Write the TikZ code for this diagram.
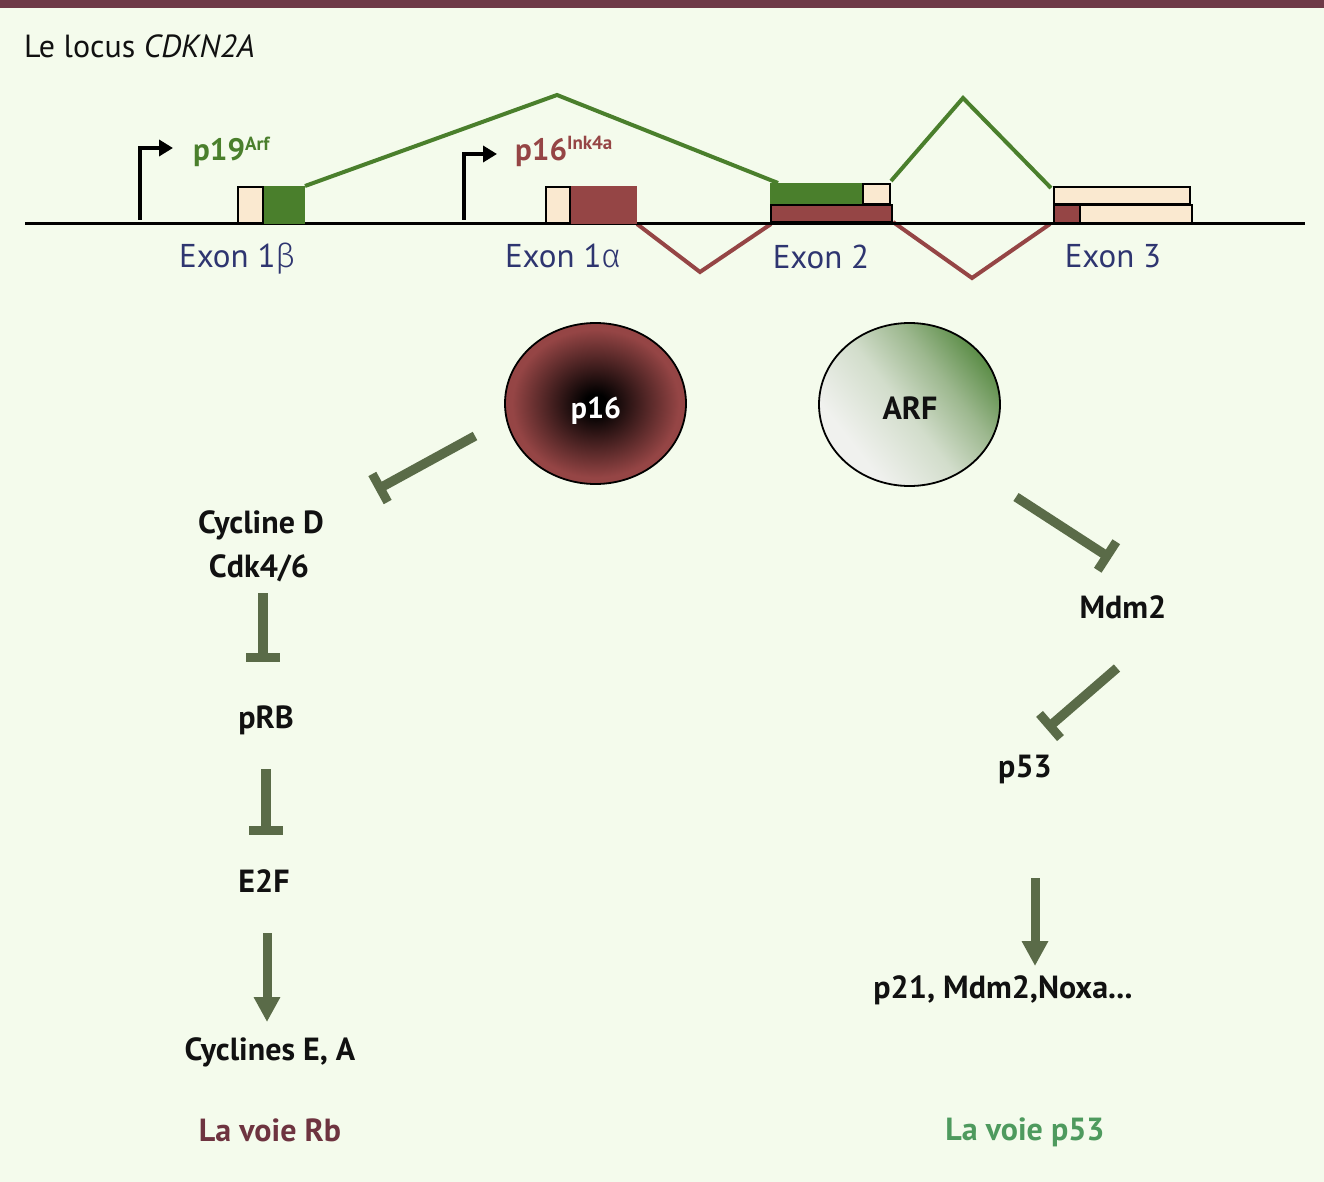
\documentclass[tikz,border=0pt]{standalone}
\usepackage{fontspec}
\setmainfont{PT Sans}
\newfontfamily\grk{Fira Sans Light}
\usetikzlibrary{arrows.meta,calc,shapes.geometric}
\definecolor{bg}{HTML}{F4FBEC}
\definecolor{topbar}{HTML}{6E3A47}
\definecolor{arfgreen}{HTML}{4A7F2C}
\definecolor{p16red}{HTML}{954545}
\definecolor{beige}{HTML}{FAE9D0}
\definecolor{exonblue}{HTML}{2E3570}
\definecolor{olive}{HTML}{5A6B48}
\definecolor{rbcol}{HTML}{6E3440}
\definecolor{p53col}{HTML}{4E9A5E}
\definecolor{txt}{HTML}{111111}
\definecolor{arflight}{HTML}{F0F1EE}
\definecolor{arfmid}{HTML}{D2DDCB}
\definecolor{arfmid2}{HTML}{9DB88F}
\definecolor{arfdark}{HTML}{578A42}
\pgfdeclareradialshading{pinkshade}{\pgfpoint{0bp}{0bp}}{color(0bp)=(black); color(3bp)=(black); color(23bp)=(p16red); color(50bp)=(p16red)}
\pgfdeclarehorizontalshading{arfshade}{100bp}{color(0bp)=(arflight); color(30bp)=(arflight); color(48bp)=(arfmid); color(62bp)=(arfmid2); color(76bp)=(arfdark); color(100bp)=(arfdark)}
\tikzset{
  lbl/.style={font=\fontsize{32}{32}\selectfont\bfseries, text=txt, inner sep=0pt},
  exonlbl/.style={font=\fontsize{33}{33}\selectfont, text=exonblue, inner sep=0pt, anchor=base},
  inhib/.style={draw=olive, line width=9.5pt},
  inhibbar/.style={draw=olive, line width=9pt},
  activ/.style={draw=olive, line width=9pt, -{Triangle[length=25pt,width=25pt]}},
  splg/.style={draw=arfgreen, line width=4pt},
  splr/.style={draw=p16red, line width=4pt},
  prom/.style={draw=black, line width=3.5pt, -{Triangle[length=14pt,width=16pt]}},
  exbox/.style={draw=black, line width=2pt, fill=beige},
}
\begin{document}
\begin{tikzpicture}[x=1pt,y=-1pt]
\useasboundingbox (0,0) rectangle (1324,1182);
\fill[bg] (0,0) rectangle (1324,1182);
\fill[topbar] (0,0) rectangle (1324,8);

% title
\node[anchor=base west, inner sep=0pt, font=\fontsize{32}{32}\selectfont, text=txt] (title) at (24,58) {Le locus \textit{CDKN2A}};

% splice lines (behind exons)
\coordinate (g1) at (305,186); \coordinate (g2) at (557,95); \coordinate (g3) at (778,183);
\coordinate (g4) at (891,181); \coordinate (g5) at (963,98); \coordinate (g6) at (1051,188);
\draw[splg] (g1) -- (g2) -- (g3);
\draw[splg] (g4) -- (g5) -- (g6);
\coordinate (r1) at (637,224); \coordinate (r2) at (700,272); \coordinate (r3) at (771,224);
\coordinate (r4) at (893,222); \coordinate (r5) at (972,278); \coordinate (r6) at (1050,224);
\draw[splr] (r1) -- (r2) -- (r3);
\draw[splr] (r4) -- (r5) -- (r6);

% DNA line
\coordinate (dnaL) at (25,224); \coordinate (dnaR) at (1305,224);
\draw[line width=3pt] (dnaL) -- (dnaR);

% promoters
\coordinate (pa1) at (140,220); \coordinate (pa1e) at (173,148);
\draw[prom] (pa1) |- (pa1e);
\coordinate (pa2) at (464,220); \coordinate (pa2e) at (497,154);
\draw[prom] (pa2) |- (pa2e);
\node[anchor=base west, inner sep=0pt, text=arfgreen] (p19lbl) at (193,161)
  {\fontsize{31}{31}\selectfont\bfseries p19\raisebox{10pt}{\fontsize{19}{19}\selectfont Arf}};
\node[anchor=base west, inner sep=0pt, text=p16red] (p16lbl) at (515,161)
  {\fontsize{31}{31}\selectfont\bfseries p16\raisebox{11pt}{\fontsize{19}{19}\selectfont Ink4a}};

% exon 1 beta
\fill[arfgreen] (263,186) rectangle (305,224);
\draw[exbox] (238,187) rectangle (263,223);
% exon 1 alpha
\fill[p16red] (570,186) rectangle (637,224);
\draw[exbox] (546,187) rectangle (570,223);
% exon 2
\fill[arfgreen] (770,183) rectangle (864,205);
\draw[exbox] (863,184) rectangle (890,204);
\draw[draw=black, line width=2pt, fill=p16red] (771,205) rectangle (892,222);
\draw[line width=4pt] (770,223) -- (893,223);
% exon 3
\draw[exbox] (1054,187) rectangle (1190,204);
\draw[exbox] (1054,205) rectangle (1192,223);
\fill[p16red] (1055,206) rectangle (1080,222);
\draw[line width=2pt] (1080,205) -- (1080,223);

% exon labels
\node[exonlbl] (ex1b) at (237,267) {Exon 1{\grk β}};
\node[exonlbl] (ex1a) at (563,268) {Exon 1{\grk α}};
\node[exonlbl] (ex2) at (821,269) {Exon 2};
\node[exonlbl] (ex3) at (1113,268) {Exon 3};

% circles
\shade[shading=pinkshade] (595.5,403.5) ellipse [x radius=90.5pt, y radius=80.5pt];
\node[ellipse, draw=black, line width=1.8pt, minimum width=181pt, minimum height=161pt, inner sep=0pt] (p16) at (595.5,403.5) {};
\node[font=\fontsize{30}{30}\selectfont\bfseries, text=white, inner sep=0pt, anchor=base] (p16t) at (596,418) {p16};

\shade[shading=arfshade, shading angle=38] (909.5,404.5) ellipse [x radius=90.5pt, y radius=81.5pt];
\node[ellipse, draw=black, line width=1.8pt, minimum width=181pt, minimum height=163pt, inner sep=0pt] (arf) at (909.5,404.5) {};
\node[font=\fontsize{32}{32}\selectfont\bfseries, text=txt, inner sep=0pt, anchor=base] (arft) at (910,419) {ARF};

% left pathway nodes
\node[lbl, anchor=base] (cycD) at (261,533) {Cycline D};
\node[lbl, anchor=base] (cdk) at (259,577) {Cdk4/6};
\node[lbl, anchor=base] (prb) at (266,728) {pRB};
\node[lbl, anchor=base] (e2f) at (264,892) {E2F};
\node[lbl, anchor=base] (cycEA) at (270,1060) {Cyclines E, A};
\node[anchor=base, inner sep=0pt, font=\fontsize{32}{32}\selectfont\bfseries, text=rbcol] (voieRb) at (270,1141) {La voie Rb};

% right pathway nodes
\node[lbl, anchor=base] (mdm2) at (1123,618) {Mdm2};
\node[lbl, anchor=base] (p53) at (1025,777) {p53};
\node[lbl, anchor=base] (p21) at (1003,998) {p21, Mdm2,Noxa...};
\node[anchor=base, inner sep=0pt, font=\fontsize{32}{32}\selectfont\bfseries, text=p53col] (voiep53) at (1025,1140) {La voie p53};

% inhibitions
\coordinate (i1s) at (475,436); \coordinate (i1e) at (380,488);
\draw[inhib] (i1s) -- (i1e);
\draw[inhibbar] ($(i1e)!16pt!90:(i1s)$) -- ($(i1e)!16pt!-90:(i1s)$);

\coordinate (i2s) at (263,593); \coordinate (i2e) at (263,657);
\draw[inhib] (i2s) -- (i2e);
\draw[inhibbar] ($(i2e)!17pt!90:(i2s)$) -- ($(i2e)!17pt!-90:(i2s)$);

\coordinate (i3s) at (266,769); \coordinate (i3e) at (266,830);
\draw[inhib] (i3s) -- (i3e);
\draw[inhibbar] ($(i3e)!17pt!90:(i3s)$) -- ($(i3e)!17pt!-90:(i3s)$);

\coordinate (i4s) at (1016,497); \coordinate (i4e) at (1107,556);
\draw[inhib] (i4s) -- (i4e);
\draw[inhibbar] ($(i4e)!17pt!90:(i4s)$) -- ($(i4e)!17pt!-90:(i4s)$);

\coordinate (i5s) at (1117,668); \coordinate (i5e) at (1050,726);
\draw[inhib] (i5s) -- (i5e);
\draw[inhibbar] ($(i5e)!16pt!90:(i5s)$) -- ($(i5e)!16pt!-90:(i5s)$);

% activations
\coordinate (a1s) at (267,933); \coordinate (a1e) at (267,1022);
\draw[activ] (a1s) -- (a1e);
\coordinate (a2s) at (1035,878); \coordinate (a2e) at (1035,966);
\draw[activ] (a2s) -- (a2e);
\end{tikzpicture}
\end{document}
